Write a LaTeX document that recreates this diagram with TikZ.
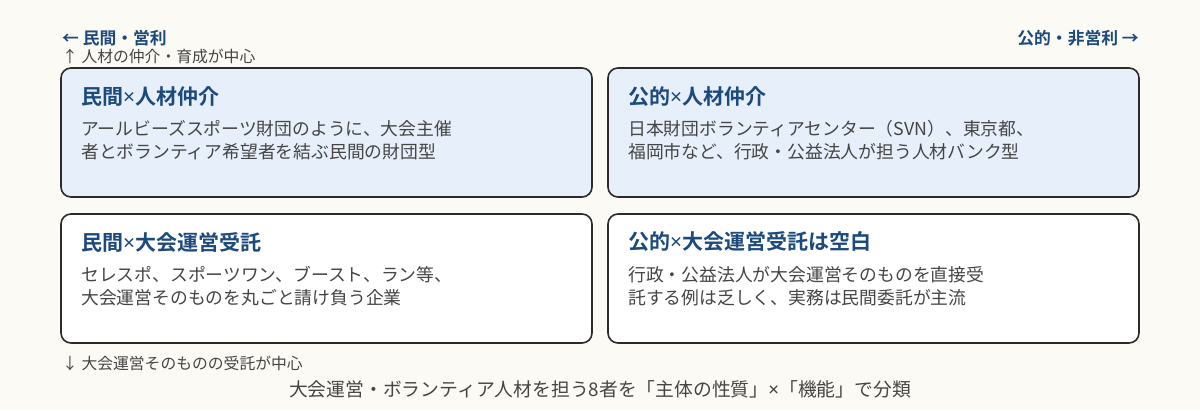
\documentclass[tikz,border=0pt]{standalone}
\usepackage{fontspec}
\setmainfont{Noto Sans CJK JP}[BoldFont={Noto Sans CJK JP Bold}]
\newfontfamily\latinface{Noto Sans}
\usepackage{tikz}
\usetikzlibrary{positioning}

\definecolor{paper}{HTML}{FBFAF4}
\definecolor{inkblue}{HTML}{1C4A7C}
\definecolor{inkgray}{HTML}{454545}
\definecolor{cellline}{HTML}{2B2B2B}
\definecolor{cellblue}{HTML}{E6EFFA}

\newcommand{\crossby}{{\latinface ×}}

\begin{document}
\begin{tikzpicture}[x=1pt, y=-1pt]
		\tikzstyle{Cell}	= [draw=cellline, line width=1.6pt, rounded corners=10pt, minimum width=531pt, minimum height=129pt, inner sep=0pt]
		\tikzstyle{Match}	= [fill=cellblue]
		\tikzstyle{Plain}	= [fill=white]
		\tikzstyle{Title}	= [anchor=west, inner sep=0pt, text=inkblue, font=\bfseries\fontsize{21}{24}\selectfont]
		\tikzstyle{Body}	= [anchor=west, inner sep=0pt, align=left, text=inkgray, font=\fontsize{17.8}{23.5}\selectfont]
		\tikzstyle{Axis}	= [inner sep=0pt, text=inkblue, font=\bfseries\fontsize{16.8}{18}\selectfont]
		\tikzstyle{Note}	= [anchor=west, inner sep=0pt, text=inkgray, font=\fontsize{15.8}{17}\selectfont]

		\fill[paper] (0, 0) rectangle (1200, 410);

		\node (c1) at (326.5, 132.5) [Cell][Match] {};
		\node (c2) at (873.5, 132.5) [Cell][Match] {};
		\node (c3) at (326.5, 278.5) [Cell][Plain] {};
		\node (c4) at (873.5, 278.5) [Cell][Plain] {};

		\node (t1) at (81, 97) [Title] {民間\crossby 人材仲介};
		\node (b1) at (81, 140) [Body] {アールビーズスポーツ財団のように、大会主催\\者とボランティア希望者を結ぶ民間の財団型};
		\node (t2) at (628, 97) [Title] {公的\crossby 人材仲介};
		\node (b2) at (628, 140) [Body] {日本財団ボランティアセンター（SVN）、東京都、\\福岡市など、行政・公益法人が担う人材バンク型};
		\node (t3) at (81, 242) [Title] {民間\crossby 大会運営受託};
		\node (b3) at (81, 286) [Body] {セレスポ、スポーツワン、ブースト、ラン等、\\大会運営そのものを丸ごと請け負う企業};
		\node (t4) at (628, 242) [Title] {公的\crossby 大会運営受託は空白};
		\node (b4) at (628, 286) [Body] {行政・公益法人が大会運営そのものを直接受\\託する例は乏しく、実務は民間委託が主流};

		\node (left) at (62, 38.5) [Axis, anchor=west] {← 民間・営利};
		\node (right) at (1139, 38.5) [Axis, anchor=east] {公的・非営利 →};
		\node (up) at (62, 57) [Note] {↑ 人材の仲介・育成が中心};
		\node (down) at (62, 363.5) [Note] {↓ 大会運営そのものの受託が中心};
		\node (caption) at (600, 389) [inner sep=0pt, text=inkgray, font=\fontsize{18.8}{20}\selectfont] {大会運営・ボランティア人材を担う8者を「主体の性質」\crossby「機能」で分類};
	\end{tikzpicture}
\end{document}
